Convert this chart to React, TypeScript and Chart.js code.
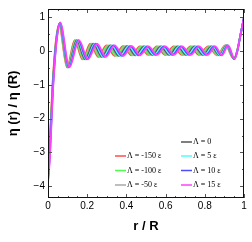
import React, { useEffect, useRef } from 'react';
import { Chart, registerables } from 'chart.js';

Chart.register(...registerables);

// ---- data ----
const seriesLabels = ['Λ = -150 ε', 'Λ = -100 ε', 'Λ = -50 ε', 'Λ = 0', 'Λ = 5 ε', 'Λ = 10 ε', 'Λ = 15 ε'];
const seriesColors = ['#ff4d4d', '#4dff4d', '#a8a8a8', '#555555', '#4dffff', '#4d4dff', '#ff40ff'];

const rM150 = [0, 0.006, 0.014, 0.022, 0.031, 0.041, 0.056, 0.097, 0.136, 0.176, 0.216, 0.257, 0.298, 0.340, 0.383, 0.426, 0.469, 0.512, 0.555, 0.598, 0.641, 0.684, 0.727, 0.770, 0.817, 0.862, 0.905, 0.948, 0.964, 0.982, 1.0];
const eM150 = [-3.55, -2.85, -2.1, -1.1, -0.3, 0.35, 0.78, -0.48, 0.33, -0.24, 0.22, -0.17, 0.17, -0.14, 0.15, -0.12, 0.14, -0.11, 0.14, -0.11, 0.14, -0.11, 0.14, -0.11, 0.14, -0.12, 0.17, -0.23, 0.0, 0.48, 1.0];

const rM100 = [0, 0.007, 0.015, 0.023, 0.032, 0.042, 0.057, 0.099, 0.140, 0.181, 0.222, 0.263, 0.305, 0.347, 0.390, 0.433, 0.476, 0.519, 0.562, 0.605, 0.648, 0.691, 0.734, 0.777, 0.823, 0.866, 0.907, 0.949, 0.965, 0.982, 1.0];
const eM100 = [-3.6, -2.9, -2.1, -1.1, -0.3, 0.35, 0.80, -0.48, 0.33, -0.24, 0.22, -0.17, 0.17, -0.14, 0.15, -0.12, 0.14, -0.11, 0.14, -0.11, 0.14, -0.11, 0.14, -0.11, 0.14, -0.12, 0.17, -0.23, 0.0, 0.48, 1.0];

const rM50 = [0, 0.007, 0.015, 0.023, 0.032, 0.042, 0.058, 0.101, 0.143, 0.185, 0.227, 0.270, 0.312, 0.355, 0.398, 0.441, 0.484, 0.527, 0.570, 0.613, 0.656, 0.699, 0.742, 0.785, 0.829, 0.871, 0.910, 0.949, 0.965, 0.982, 1.0];
const eM50 = [-3.65, -2.95, -2.1, -1.1, -0.3, 0.35, 0.81, -0.48, 0.33, -0.24, 0.22, -0.17, 0.17, -0.14, 0.15, -0.12, 0.14, -0.11, 0.14, -0.11, 0.14, -0.11, 0.14, -0.11, 0.14, -0.12, 0.17, -0.23, 0.0, 0.48, 1.0];

const r0 = [0, 0.008, 0.016, 0.024, 0.033, 0.043, 0.059, 0.103, 0.147, 0.190, 0.233, 0.276, 0.319, 0.362, 0.405, 0.448, 0.491, 0.534, 0.577, 0.620, 0.663, 0.706, 0.749, 0.792, 0.835, 0.875, 0.912, 0.950, 0.965, 0.982, 1.0];
const e0 = [-3.75, -3.0, -2.1, -1.1, -0.3, 0.35, 0.82, -0.48, 0.33, -0.24, 0.22, -0.17, 0.17, -0.14, 0.15, -0.12, 0.14, -0.11, 0.14, -0.11, 0.14, -0.11, 0.14, -0.11, 0.14, -0.12, 0.17, -0.23, 0.0, 0.48, 1.0];

const rP5 = [0, 0.009, 0.017, 0.025, 0.034, 0.044, 0.060, 0.105, 0.151, 0.195, 0.239, 0.282, 0.326, 0.369, 0.412, 0.455, 0.498, 0.541, 0.584, 0.627, 0.670, 0.713, 0.756, 0.799, 0.841, 0.879, 0.914, 0.951, 0.965, 0.982, 1.0];
const eP5 = [-3.8, -3.05, -2.1, -1.1, -0.3, 0.35, 0.83, -0.48, 0.33, -0.24, 0.22, -0.17, 0.17, -0.14, 0.15, -0.12, 0.14, -0.11, 0.14, -0.11, 0.14, -0.11, 0.14, -0.11, 0.14, -0.12, 0.17, -0.23, 0.0, 0.48, 1.0];

const rP10 = [0, 0.009, 0.017, 0.025, 0.034, 0.044, 0.061, 0.107, 0.154, 0.199, 0.244, 0.289, 0.333, 0.377, 0.420, 0.463, 0.506, 0.549, 0.592, 0.635, 0.678, 0.721, 0.764, 0.807, 0.847, 0.884, 0.917, 0.951, 0.966, 0.982, 1.0];
const eP10 = [-3.85, -3.1, -2.1, -1.1, -0.3, 0.35, 0.84, -0.48, 0.33, -0.24, 0.22, -0.17, 0.17, -0.14, 0.15, -0.12, 0.14, -0.11, 0.14, -0.11, 0.14, -0.11, 0.14, -0.11, 0.14, -0.12, 0.17, -0.23, 0.0, 0.48, 1.0];

const rP15 = [0, 0.010, 0.018, 0.026, 0.035, 0.045, 0.062, 0.109, 0.158, 0.204, 0.250, 0.295, 0.340, 0.384, 0.427, 0.470, 0.513, 0.556, 0.599, 0.642, 0.685, 0.728, 0.771, 0.814, 0.853, 0.888, 0.919, 0.952, 0.966, 0.982, 1.0];
const eP15 = [-3.9, -3.15, -2.1, -1.1, -0.3, 0.35, 0.85, -0.48, 0.33, -0.24, 0.22, -0.17, 0.17, -0.14, 0.15, -0.12, 0.14, -0.11, 0.14, -0.11, 0.14, -0.11, 0.14, -0.11, 0.14, -0.12, 0.17, -0.23, 0.0, 0.48, 1.0];

const seriesR = [rM150, rM100, rM50, r0, rP5, rP10, rP15];
const seriesE = [eM150, eM100, eM50, e0, eP5, eP10, eP15];

const xTicks = [0, 0.2, 0.4, 0.6, 0.8, 1];
const xMinorTicks = [0.05, 0.1, 0.15, 0.25, 0.3, 0.35, 0.45, 0.5, 0.55, 0.65, 0.7, 0.75, 0.85, 0.9, 0.95];
const yTicks = [-4, -3, -2, -1, 0, 1];
const yMinorTicks = [-3.5, -2.5, -1.5, -0.5, 0.5];

// legend layout: [column, row] for each series
const legendSlots = [[0, 1], [0, 2], [0, 3], [1, 0], [1, 1], [1, 2], [1, 3]];

const FONT = 'Liberation Sans, Arial, Helvetica, sans-serif';

const framePlugin = {
  id: 'frame',
  afterDatasetsDraw(chart: any) {
    const { ctx, chartArea: a } = chart;
    const x = chart.scales.x;
    const y = chart.scales.y;
    ctx.save();
    // tick marks (inward, all four sides)
    ctx.strokeStyle = '#555';
    ctx.lineWidth = 1;
    ctx.beginPath();
    const vx = (v: number, len: number) => {
      const px = Math.round(x.getPixelForValue(v)) + 0.5;
      ctx.moveTo(px, a.bottom); ctx.lineTo(px, a.bottom - len);
      ctx.moveTo(px, a.top); ctx.lineTo(px, a.top + len);
    };
    const vy = (v: number, len: number) => {
      const py = Math.round(y.getPixelForValue(v)) + 0.5;
      ctx.moveTo(a.left, py); ctx.lineTo(a.left + len, py);
      ctx.moveTo(a.right, py); ctx.lineTo(a.right - len, py);
    };
    xTicks.forEach(v => vx(v, 4));
    xMinorTicks.forEach(v => vx(v, 2));
    yTicks.forEach(v => vy(v, 4));
    yMinorTicks.forEach(v => vy(v, 2));
    ctx.stroke();
    // frame
    ctx.strokeStyle = '#111';
    ctx.lineWidth = 1;
    ctx.strokeRect(a.left + 0.5, a.top + 0.5, a.right - a.left - 1, a.bottom - a.top - 1);

    // legend
    const colX = [a.left + 67, a.left + 133];
    const rowY = [a.top + 133, a.top + 147, a.top + 161.5, a.top + 176];
    ctx.font = '8px "Liberation Serif", serif';
    ctx.textBaseline = 'middle';
    ctx.textAlign = 'left';
    ctx.fillStyle = '#000';
    legendSlots.forEach(([c, r], i) => {
      const lx = colX[c];
      const ly = rowY[r];
      ctx.strokeStyle = seriesColors[i];
      ctx.lineWidth = 1.5;
      ctx.beginPath();
      ctx.moveTo(lx, ly);
      ctx.lineTo(lx + 11, ly);
      ctx.stroke();
      ctx.fillText(seriesLabels[i], lx + 12, ly);
    });
    ctx.restore();
  },
};

export default function App() {
  const canvasRef = useRef<HTMLCanvasElement | null>(null);

  useEffect(() => {
    const canvas = canvasRef.current;
    if (!canvas) return;
    const datasets = seriesLabels.map((label, i) => ({
      label,
      data: seriesR[i].map((r, j) => ({ x: r, y: seriesE[i][j] })),
      borderColor: seriesColors[i],
      borderWidth: 1.8,
      pointRadius: 0,
      fill: false,
      cubicInterpolationMode: 'monotone' as const,
      order: 6 - i,
    }));
    const chart = new Chart(canvas, {
      type: 'line',
      data: { datasets },
      options: {
        animation: false,
        responsive: false,
        devicePixelRatio: 1,
        parsing: false,
        layout: { padding: { left: 0, right: 8, top: 8, bottom: 0 } },
        plugins: { legend: { display: false }, tooltip: { enabled: false }, title: { display: false } },
        scales: {
          x: {
            type: 'linear',
            min: 0,
            max: 1,
            grid: { display: false, drawTicks: false },
            border: { display: false },
            ticks: {
              color: '#000',
              font: { family: FONT, size: 10 },
              padding: 2,
              maxRotation: 0,
              autoSkip: false,
              callback: (v: any) => String(Number(v)),
            },
            afterBuildTicks: (s: any) => { s.ticks = xTicks.map(value => ({ value })); },
            afterFit: (s: any) => { s.height = 44; },
            title: {
              display: true,
              text: 'r / R',
              color: '#000',
              font: { family: FONT, size: 13, weight: 'bold' },
              padding: { top: 0, bottom: 8 },
            },
          },
          y: {
            type: 'linear',
            min: -4.35,
            max: 1.25,
            grid: { display: false, drawTicks: false },
            border: { display: false },
            ticks: {
              color: '#000',
              font: { family: FONT, size: 10 },
              padding: 3,
              autoSkip: false,
              callback: (v: any) => (Number(v) < 0 ? '\u2212' + Math.abs(Number(v)) : String(Number(v))),
            },
            afterBuildTicks: (s: any) => { s.ticks = yTicks.map(value => ({ value })); },
            afterFit: (s: any) => { s.width = 48; },
            title: {
              display: true,
              text: 'η (r) / η (R)',
              color: '#000',
              font: { family: FONT, size: 13, weight: 'bold' },
              padding: { top: 6, bottom: 0 },
            },
          },
        },
      } as any,
      plugins: [framePlugin],
    });
    return () => chart.destroy();
  }, []);

  return (
    <div style={{ position: 'fixed', left: 0, top: 0, width: 252, height: 242, background: '#fff' }}>
      <canvas ref={canvasRef} width={252} height={242} style={{ width: 252, height: 242, display: 'block' }} />
    </div>
  );
}
